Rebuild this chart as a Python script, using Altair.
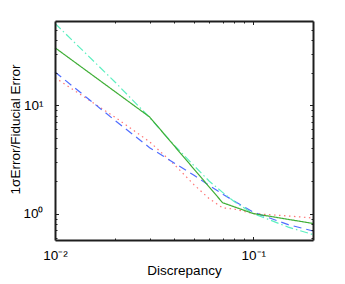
import altair as alt
import pandas as pd

# ---- data ----
green_x = [0.01, 0.03, 0.07, 0.1, 0.2]
green_y = [34, 7.8, 1.26, 1.0, 0.81]
cyan_x = [0.01, 0.02, 0.03, 0.04, 0.05, 0.06, 0.07, 0.08, 0.1, 0.15, 0.2]
cyan_y = [57, 16.5, 7.7, 4.27, 2.79, 1.99, 1.57, 1.29, 1.0, 0.75, 0.64]
blue_x = [0.01, 0.02, 0.03, 0.05, 0.07, 0.1, 0.15, 0.2]
blue_y = [20.3, 7.28, 4.06, 2.27, 1.51, 1.03, 0.79, 0.69]
red_x = [0.01, 0.02, 0.03, 0.04, 0.05, 0.06, 0.07, 0.08, 0.1, 0.15, 0.2]
red_y = [18, 7.8, 4.6, 2.83, 1.86, 1.37, 1.13, 1.1, 1.0, 0.95, 0.91]

series = ["red", "blue", "cyan", "green"]
colors = ["#ff7575", "#4f6dff", "#5cefc0", "#3fae36"]
dashes = [[1.5, 3.5], [8, 5], [8, 3, 1.5, 3], [1, 0]]

x_major = [0.1]
x_minor = [0.02, 0.03, 0.04, 0.05, 0.06, 0.07, 0.08, 0.09]
y_major = [1, 10]
y_minor = [0.6, 0.7, 0.8, 0.9, 2, 3, 4, 5, 6, 7, 8, 9, 20, 30, 40, 50]

rows = []
for name, xs, ys in [("red", red_x, red_y), ("blue", blue_x, blue_y),
                     ("cyan", cyan_x, cyan_y), ("green", green_x, green_y)]:
    for i, (a, b) in enumerate(zip(xs, ys)):
        rows.append({"s": name, "x": a, "y": b, "o": i})
df = pd.DataFrame(rows)

xscale = alt.Scale(type="log", domain=[0.01, 0.2], nice=False)
yscale = alt.Scale(type="log", domain=[0.57, 60], nice=False)
FONT = "Liberation Sans"
FS = 13.5
FRAME = "#1e1e1e"
FW = 2

lines = alt.Chart(df).mark_line(strokeWidth=1.2).encode(
    x=alt.X("x:Q", scale=xscale, axis=alt.Axis(
        values=[0.01, 0.1],
        labelExpr="datum.value < 0.05 ? '10⁻²' : '10⁻¹'",
        ticks=False, domain=True, domainColor=FRAME, domainWidth=FW,
        domainOpacity=1, zindex=1,
        grid=False, labelFlush=False,
        labelPadding=8, labelFontSize=FS, labelFont=FONT, labelColor="#000",
        title="Discrepancy", titleFontSize=FS, titleFont=FONT,
        titleFontWeight="normal", titleColor="#000",
        titleY=34.5, titleBaseline="alphabetic")),
    y=alt.Y("y:Q", scale=yscale, axis=alt.Axis(
        values=[1, 10],
        labelExpr="datum.value > 5 ? '10¹' : '10⁰'",
        ticks=False, domain=True, domainColor=FRAME, domainWidth=FW,
        domainOpacity=1, zindex=1,
        grid=False, labelFlush=False,
        labelPadding=12, labelFontSize=FS, labelFont=FONT, labelColor="#000",
        title="1σError/Fiducial Error", titleFontSize=FS, titleFont=FONT,
        titleFontWeight="normal", titleColor="#000",
        titleX=-36, titleY=108, titleBaseline="alphabetic", titleAlign="center")),
    color=alt.Color("s:N", scale=alt.Scale(domain=series, range=colors), legend=None),
    strokeDash=alt.StrokeDash("s:N", scale=alt.Scale(domain=series, range=dashes), legend=None),
    order="o:Q",
)


def tick_layer(xorient, yorient, xvals, yvals, size, domain=False):
    return alt.Chart(df).mark_point(opacity=0).encode(
        x=alt.X("x:Q", scale=xscale, axis=alt.Axis(
            orient=xorient, values=xvals, labels=False, domain=domain,
            domainColor=FRAME, domainWidth=FW, grid=False, zindex=1,
            ticks=size > 0, tickSize=size, offset=-size, title="", tickColor=FRAME,
            tickWidth=1)),
        y=alt.Y("y:Q", scale=yscale, axis=alt.Axis(
            orient=yorient, values=yvals, labels=False, domain=domain,
            domainColor=FRAME, domainWidth=FW, grid=False, zindex=1,
            ticks=size > 0, tickSize=size, offset=-size, title="", tickColor=FRAME,
            tickWidth=1)),
    )


chart = alt.layer(
    lines,
    tick_layer("bottom", "left", x_major, y_major, 3.5),
    tick_layer("bottom", "left", x_minor, y_minor, 2),
    tick_layer("top", "right", x_major, y_major, 3.5),
    tick_layer("top", "right", x_minor, y_minor, 2),
    tick_layer("top", "right", x_major, y_major, 0, domain=True),
).resolve_axis(x="independent", y="independent").properties(
    width=258, height=219,
    autosize=alt.AutoSizeParams(type="none"),
    padding={"left": 47, "top": 13, "right": 5, "bottom": 38},
).configure_view(stroke=FRAME, strokeWidth=1.5, strokeOpacity=1).configure(font=FONT)

chart.save("out.html", embed_options={"renderer": "svg", "actions": False})
